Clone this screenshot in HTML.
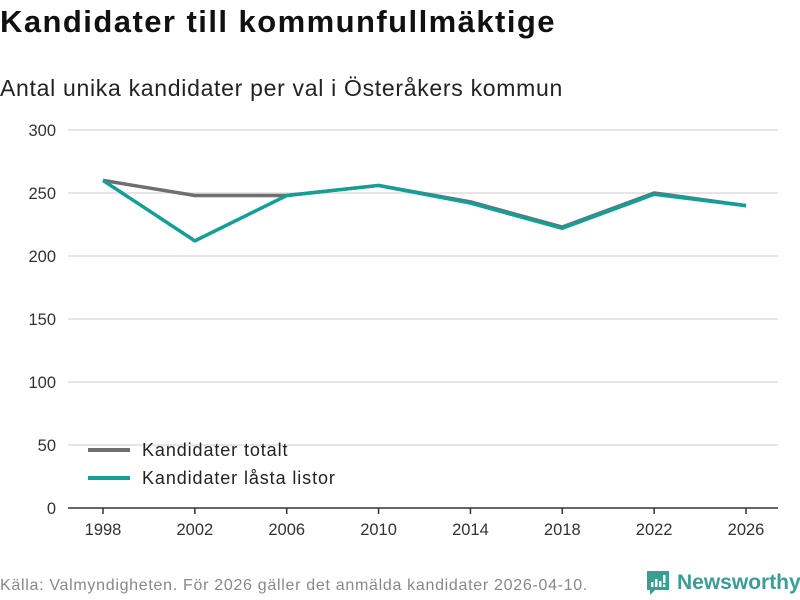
<!DOCTYPE html>
<html><head><meta charset="utf-8"><style>
body{margin:0;width:800px;height:600px;background:#fff;font-family:"Liberation Sans",sans-serif;overflow:hidden;position:relative}
.t{position:absolute;left:0;top:4px;font-size:31px;font-weight:bold;color:#111;letter-spacing:1.45px;white-space:nowrap}
.s{position:absolute;left:0;top:75px;font-size:23px;color:#222;letter-spacing:0.7px;white-space:nowrap}
.f{position:absolute;left:0;top:577px;font-size:16px;color:#888;letter-spacing:0.7px;white-space:nowrap}
.logo{position:absolute;left:645px;top:569px;display:flex;align-items:center;color:#3a9e93;font-size:21px;font-weight:bold}
</style></head><body>
<div class="t">Kandidater till kommunfullmäktige</div>
<div class="s">Antal unika kandidater per val i Österåkers kommun</div>
<svg id="c" width="800" height="600" style="position:absolute;left:0;top:0"></svg>
<div class="f">Källa: Valmyndigheten. För 2026 gäller det anmälda kandidater 2026-04-10.</div>
<div class="logo"><svg width="26" height="28" viewBox="0 0 26 28"><path d="M2 2h22v19H10l-5 5v-5H2z" fill="#3a9e93"/><rect x="6" y="13" width="2.5" height="5" fill="#fff"/><rect x="10" y="10" width="2.5" height="8" fill="#fff"/><rect x="14" y="12" width="2.5" height="6" fill="#fff"/><rect x="18" y="6" width="2.5" height="8" fill="#fff"/><rect x="18" y="15.5" width="2.5" height="2.5" fill="#fff"/></svg><span style="margin-left:6px">Newsworthy</span></div>
<script>
const years=[1998,2002,2006,2010,2014,2018,2022,2026];
const totalt=[260,248,248,256,243,223,250,240];
const lasta=[260,212,248,256,242,222,249,240];
const yTicks=[0,50,100,150,200,250,300];
const NS='http://www.w3.org/2000/svg',svg=document.getElementById('c');
const x=v=>103+(v-1998)*(746-103)/28;
const y=v=>508-v*378/300;
function el(t,a,p){const e=document.createElementNS(NS,t);for(const k in a)e.setAttribute(k,a[k]);(p||svg).appendChild(e);return e;}
yTicks.forEach(v=>{
 if(v>0){const g=el('line',{x1:68,x2:778,y1:y(v),y2:y(v),stroke:'#ddd','stroke-width':1.5});
 
 }
 const t=el('text',{x:56,y:y(v)+6,'text-anchor':'end','font-size':16.5,fill:'#333'});t.textContent=v;
 
 
});
const ax=el('line',{x1:68,x2:778,y1:508,y2:508,stroke:'#333','stroke-width':1.5});


years.forEach(v=>{
 el('line',{x1:x(v),x2:x(v),y1:508,y2:514,stroke:'#333','stroke-width':1.5});
 const t=el('text',{x:x(v),y:535,'text-anchor':'middle','font-size':16.5,fill:'#333'});t.textContent=v;
 
 
});
function line(d,c,n){const p=el('polyline',{points:d.map((v,i)=>x(years[i])+','+y(v)).join(' '),fill:'none',stroke:c,'stroke-width':3.5,'stroke-linejoin':'round'});
 
 }
line(totalt,'#6f6e72','series-kandidater-totalt');
line(lasta,'#12a096','series-kandidater-lasta-listor');
[['Kandidater totalt','#6f6e72',450],['Kandidater låsta listor','#12a096',478]].forEach(([l,c,yy])=>{
 el('line',{x1:88,x2:130,y1:yy,y2:yy,stroke:c,'stroke-width':4});
 const t=el('text',{x:142,y:yy+6,'font-size':18,fill:'#222','letter-spacing':0.9});t.textContent=l;
 
 
});
</script>
</body></html>
